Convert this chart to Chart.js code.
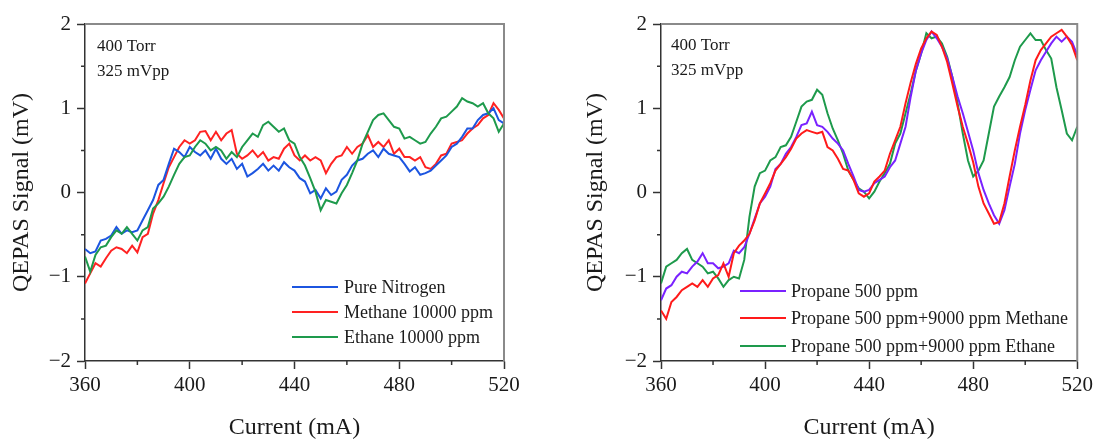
<!DOCTYPE html>
<html><head><meta charset="utf-8">
<script src="https://cdn.jsdelivr.net/npm/chart.js@4.4.1/dist/chart.umd.min.js"></script>
<style>
html,body{margin:0;padding:0;background:#fff;overflow:hidden;}
#wrap{position:relative;width:1097px;height:442px;background:#fff;}
canvas{position:absolute;top:0;}
#c1{left:0;} #c2{left:548px;}
</style></head><body>
<div id="wrap"><canvas id="c1" width="548" height="442"></canvas><canvas id="c2" width="549" height="442"></canvas></div>
<script>
// ---------- data ----------
const current = [360,362,364,366,368,370,372,374,376,378,380,382,384,386,388,390,392,394,396,398,
  400,402,404,406,408,410,412,414,416,418,420,422,424,426,428,430,432,434,436,438,
  440,442,444,446,448,450,452,454,456,458,460,462,464,466,468,470,472,474,476,478,
  480,482,484,486,488,490,492,494,496,498,500,502,504,506,508,510,512,514,516,518,520];

// left panel
const pureNitrogen = [-0.67,-0.72,-0.70,-0.57,-0.55,-0.51,-0.41,-0.49,-0.45,-0.47,-0.45,-0.33,-0.21,-0.09,0.09,0.15,0.34,0.52,0.48,0.42,
  0.54,0.48,0.44,0.50,0.40,0.52,0.40,0.34,0.40,0.28,0.34,0.19,0.23,0.28,0.34,0.26,0.32,0.26,0.36,0.30,
  0.26,0.17,0.13,-0.01,0.03,-0.07,0.05,-0.03,0.01,0.15,0.21,0.32,0.38,0.40,0.46,0.50,0.42,0.52,0.46,0.44,
  0.42,0.34,0.25,0.30,0.21,0.23,0.26,0.32,0.38,0.44,0.54,0.58,0.66,0.76,0.76,0.86,0.92,0.94,1.00,0.86,0.82];
const methane10000 = [-1.08,-0.96,-0.84,-0.88,-0.78,-0.69,-0.65,-0.67,-0.72,-0.63,-0.71,-0.53,-0.49,-0.25,-0.09,0.11,0.30,0.42,0.54,0.62,
  0.58,0.62,0.72,0.73,0.62,0.72,0.62,0.70,0.74,0.46,0.40,0.44,0.50,0.42,0.48,0.38,0.42,0.40,0.52,0.58,
  0.44,0.38,0.44,0.38,0.42,0.38,0.23,0.34,0.42,0.44,0.54,0.46,0.54,0.58,0.68,0.54,0.60,0.54,0.62,0.46,
  0.52,0.42,0.42,0.38,0.42,0.30,0.28,0.34,0.44,0.46,0.58,0.60,0.62,0.70,0.76,0.80,0.88,0.92,1.06,0.98,0.88];
const ethane10000 = [-0.76,-0.94,-0.74,-0.65,-0.63,-0.53,-0.45,-0.49,-0.41,-0.49,-0.57,-0.45,-0.41,-0.19,-0.13,-0.05,0.07,0.21,0.34,0.42,
  0.44,0.54,0.62,0.58,0.50,0.54,0.50,0.40,0.48,0.42,0.54,0.62,0.70,0.66,0.80,0.84,0.78,0.72,0.76,0.62,
  0.58,0.42,0.32,0.17,0.01,-0.21,-0.09,-0.11,-0.13,-0.01,0.09,0.23,0.38,0.58,0.72,0.86,0.92,0.94,0.86,0.78,
  0.76,0.64,0.66,0.62,0.58,0.60,0.70,0.78,0.88,0.90,0.96,1.02,1.12,1.08,1.06,1.02,1.06,0.94,0.88,0.72,0.82];

// right panel
const propane500 = [-1.28,-1.14,-1.10,-1.00,-0.94,-0.96,-0.88,-0.82,-0.72,-0.84,-0.84,-0.90,-0.88,-0.84,-0.69,-0.72,-0.65,-0.49,-0.31,-0.13,
  -0.05,0.07,0.28,0.34,0.46,0.54,0.66,0.80,0.82,0.96,0.80,0.78,0.72,0.64,0.58,0.50,0.34,0.19,0.03,0.01,
  0.03,0.11,0.15,0.19,0.30,0.38,0.58,0.78,1.14,1.45,1.65,1.81,1.91,1.83,1.73,1.59,1.37,1.14,0.94,0.72,
  0.50,0.23,0.03,-0.13,-0.27,-0.37,-0.21,0.07,0.34,0.70,0.98,1.22,1.45,1.57,1.67,1.77,1.85,1.79,1.85,1.79,1.63];
const propaneMethane = [-1.40,-1.50,-1.30,-1.24,-1.16,-1.12,-1.08,-1.12,-1.04,-1.12,-1.02,-0.98,-0.84,-1.00,-0.72,-0.63,-0.57,-0.49,-0.33,-0.13,
  -0.01,0.11,0.26,0.34,0.42,0.52,0.64,0.70,0.74,0.72,0.70,0.72,0.54,0.50,0.40,0.28,0.26,0.15,-0.01,-0.05,
  -0.01,0.13,0.19,0.26,0.46,0.62,0.78,1.06,1.31,1.53,1.71,1.83,1.91,1.87,1.73,1.55,1.29,1.02,0.78,0.58,
  0.36,0.07,-0.13,-0.25,-0.37,-0.35,-0.13,0.19,0.50,0.78,1.04,1.33,1.57,1.69,1.77,1.85,1.89,1.93,1.85,1.75,1.57];
const propaneEthane = [-1.08,-0.88,-0.84,-0.80,-0.72,-0.67,-0.80,-0.84,-0.88,-0.96,-0.94,-1.02,-1.12,-1.04,-1.00,-1.02,-0.80,-0.29,0.07,0.23,
  0.26,0.38,0.42,0.54,0.56,0.66,0.84,1.02,1.08,1.10,1.22,1.16,0.94,0.76,0.62,0.46,0.26,0.15,0.05,0.01,
  -0.07,0.01,0.13,0.23,0.34,0.58,0.70,0.94,1.18,1.45,1.65,1.89,1.83,1.85,1.77,1.61,1.37,1.06,0.70,0.38,
  0.19,0.26,0.38,0.70,1.02,1.14,1.25,1.37,1.57,1.73,1.81,1.89,1.81,1.81,1.69,1.59,1.25,0.98,0.70,0.62,0.78];

const xTickValues = [360, 400, 440, 480, 520];
const yTickValues = [2, 1, 0, -1, -2];
const yTickLabels = ['2', '1', '0', '\u22121', '\u22122'];
const xTitle = 'Current (mA)';
const yTitle = 'QEPAS Signal (mV)';
const conditions = ['400 Torr', '325 mVpp'];

const leftSeries = [
  {label: 'Pure Nitrogen', values: pureNitrogen, color: '#1c55e0', order: 1},
  {label: 'Methane 10000 ppm', values: methane10000, color: '#ff2222', order: 2},
  {label: 'Ethane 10000 ppm', values: ethane10000, color: '#1e9a4c', order: 0}
];
const rightSeries = [
  {label: 'Propane 500 ppm', values: propane500, color: '#7a22ff', order: 1},
  {label: 'Propane 500 ppm+9000 ppm Methane', values: propaneMethane, color: '#ff1a1a', order: 0},
  {label: 'Propane 500 ppm+9000 ppm Ethane', values: propaneEthane, color: '#1e9a4c', order: 2}
];

// ---------- styling / drawing ----------
const FONT = "'Liberation Serif', 'Times New Roman', serif";
const AXIS = '#333333';
const TEXT = '#1a1a1a';

const framePlugin = {
  id: 'frame',
  afterDraw(chart, args, o) {
    const {ctx, chartArea: a} = chart;
    const xs = chart.scales.x, ys = chart.scales.y;
    ctx.save();
    // top and right border
    ctx.strokeStyle = '#8a8a8a';
    ctx.lineWidth = 2;
    ctx.beginPath();
    ctx.moveTo(a.left, a.top); ctx.lineTo(a.right, a.top); ctx.lineTo(a.right, a.bottom);
    ctx.stroke();
    // minor ticks
    ctx.strokeStyle = AXIS;
    ctx.lineWidth = 1.5;
    ctx.beginPath();
    xs.ticks.forEach(t => {
      if (!xTickValues.includes(t.value)) {
        const p = xs.getPixelForValue(t.value);
        ctx.moveTo(p, a.bottom); ctx.lineTo(p, a.bottom + 4);
      }
    });
    ys.ticks.forEach(t => {
      if (!yTickValues.includes(t.value)) {
        const p = ys.getPixelForValue(t.value);
        ctx.moveTo(a.left, p); ctx.lineTo(a.left - 4, p);
      }
    });
    ctx.stroke();
    // condition text
    ctx.fillStyle = TEXT;
    ctx.font = '17px ' + FONT;
    ctx.textAlign = 'left';
    ctx.textBaseline = 'alphabetic';
    conditions.forEach((s, i) => ctx.fillText(s, o.noteX, o.noteY[i]));
    // legend
    ctx.font = '18px ' + FONT;
    ctx.textBaseline = 'middle';
    chart.data.datasets.forEach((d, i) => {
      const y = o.legRows[i];
      ctx.strokeStyle = d.borderColor;
      ctx.lineWidth = 2;
      ctx.beginPath(); ctx.moveTo(o.legX0, y); ctx.lineTo(o.legX1, y); ctx.stroke();
      ctx.fillStyle = TEXT;
      ctx.fillText(d.label, o.legText, y + 1);
    });
    ctx.restore();
  }
};

function makeChart(canvas, series, g) {
  const datasets = series.map(s => ({
    label: s.label,
    data: current.map((c, k) => ({x: c, y: s.values[k]})),
    borderColor: s.color, backgroundColor: s.color,
    borderWidth: 2, pointRadius: 0, tension: 0, fill: false, order: s.order
  }));
  return new Chart(canvas, {
    type: 'line',
    data: {datasets},
    options: {
      responsive: false, animation: false, devicePixelRatio: 1,
      layout: {padding: {top: 24, right: g.padRight, left: 0, bottom: 0}},
      plugins: {
        legend: {display: false}, tooltip: {enabled: false},
        frame: {noteX: g.noteX, noteY: g.noteY, legX0: g.legX0, legX1: g.legX1, legText: g.legText, legRows: g.legRows}
      },
      scales: {
        x: {
          type: 'linear', min: 360, max: 520,
          afterFit: s => { s.height = 81; },
          ticks: {stepSize: 20, autoSkip: false, maxRotation: 0, padding: 4, color: TEXT,
            font: {family: FONT, size: 21},
            callback: v => xTickValues.includes(v) ? String(v) : ''},
          grid: {drawOnChartArea: false, drawTicks: true, tickLength: 8, tickWidth: 1.5,
            tickColor: c => (c.tick && xTickValues.includes(c.tick.value)) ? AXIS : 'rgba(0,0,0,0)'},
          border: {display: true, color: AXIS, width: 1.5},
          title: {display: true, text: xTitle, color: TEXT, font: {family: FONT, size: 24}, padding: {top: 0, bottom: 0}}
        },
        y: {
          type: 'linear', min: -2, max: 2,
          afterFit: s => { s.width = g.yWidth; },
          ticks: {stepSize: 0.5, autoSkip: false, padding: 6, color: TEXT,
            font: {family: FONT, size: 21},
            callback: v => { const i = yTickValues.indexOf(v); return i >= 0 ? yTickLabels[i] : ''; }},
          grid: {drawOnChartArea: false, drawTicks: true, tickLength: 8, tickWidth: 1.5,
            tickColor: c => (c.tick && yTickValues.includes(c.tick.value)) ? AXIS : 'rgba(0,0,0,0)'},
          border: {display: true, color: AXIS, width: 1.5},
          title: {display: true, text: yTitle, color: TEXT, font: {family: FONT, size: 24}, padding: {top: g.yTitlePad, bottom: 0}}
        }
      }
    },
    plugins: [framePlugin]
  });
}

makeChart(document.getElementById('c1'), leftSeries, {
  padRight: 44, yWidth: 85, yTitlePad: 7,
  noteX: 97, noteY: [51, 76],
  legX0: 292, legX1: 338, legText: 344, legRows: [287, 312, 337]
});
makeChart(document.getElementById('c2'), rightSeries, {
  padRight: 17, yWidth: 113, yTitlePad: 33,
  noteX: 123, noteY: [50, 75],
  legX0: 192, legX1: 238, legText: 243, legRows: [291, 318, 346]
});
</script>
</body></html>
